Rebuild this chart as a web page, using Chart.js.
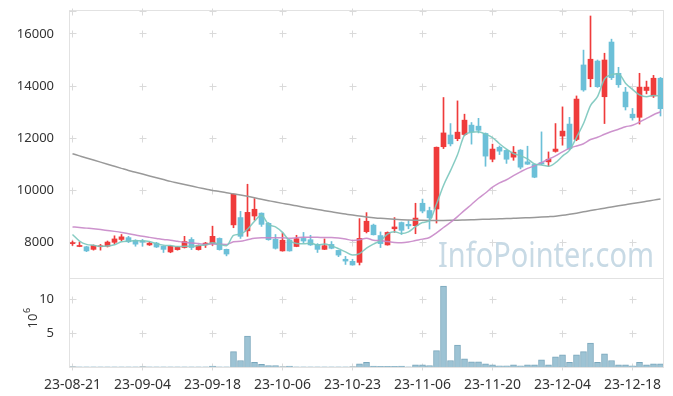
<!DOCTYPE html>
<html><head><meta charset="utf-8">
<script src="https://cdn.jsdelivr.net/npm/chart.js@4.4.0/dist/chart.umd.min.js"></script>
<style>html,body{margin:0;padding:0;background:#fff;}#wrap{width:673px;height:396px;position:relative;}</style>
</head><body><div id="wrap"><canvas id="c" width="673" height="396"></canvas></div>
<script>
// ---- data ----
const dateLabels = ['23-08-21','23-09-04','23-09-18','23-10-06','23-10-23','23-11-06','23-11-20','23-12-04','23-12-18'];
const dateTickIdx = [0,10,20,30,40,50,60,70,80];
const priceTicks = [8000,10000,12000,14000,16000];
const volTicks = [5,10];

const open  = [7950,7840,7830,7730,7830,7850,8000,8110,8180,8080, 8050,7900,7970,7850,7630,7720,7800,8110,7720,7900,
               7950,8150,7730,8670,8950,8440,9010,9120,8730,8120, 7670,8090,7840,8150,8100,7920,7730,7920,7690,7350,
               7270,7230,8410,8660,8260,7900,8520,8760,8690,8640, 9500,9220,9280,11670,12120,11980,12140,12500,12460,12180,
               11190,11650,11530,11270,11540,11090,10990,11060,11090,11490, 12080,12540,11950,14810,14280,14960,13590,15690,14490,13770,
               12920,12800,13830,13620,14300];
const high  = [8050,8010,7850,7900,7920,8050,8250,8300,8230,8100, 8110,8020,8000,7870,7870,7840,8230,8180,7900,8000,
               8620,8170,7740,9860,9190,10230,9680,9130,8760,8300, 8360,8110,8270,8380,8270,7950,8130,8030,7700,7460,
               7350,8910,9140,8700,8400,8400,8950,8780,8830,9500, 9660,9350,11660,13560,12560,13430,12920,12600,12760,12200,
               11770,11700,11560,11680,11560,11690,11010,12240,11470,12560, 13200,12800,13620,15380,16690,15000,15260,15800,14720,13950,
               13140,14490,14190,14410,14330];
const low   = [7880,7830,7640,7700,7700,7820,7930,8050,7990,7850, 7850,7880,7800,7610,7600,7700,7780,7720,7700,7800,
               7880,7700,7480,8560,8150,8230,8850,8610,8080,7740, 7660,7660,7830,7980,7880,7610,7720,7750,7450,7150,
               7120,7130,8360,8280,7800,7890,8380,8300,8520,8330, 9130,8510,8740,11600,11700,11900,12100,11770,12200,10920,
               11090,11370,11030,11150,10820,10990,10480,10980,10920,11460, 11730,11560,11900,13800,13970,13950,12560,14250,13950,13080,
               12690,12540,13700,13560,12850];
const close = [7970,7880,7670,7880,7860,8010,8130,8210,8020,7930, 8010,7970,7820,7730,7850,7820,8030,7800,7880,7970,
               8230,7720,7550,9850,8230,9150,9270,8690,8100,7770, 8080,7670,8140,8050,7900,7730,7870,7770,7510,7280,
               7130,8150,8810,8290,7950,8380,8590,8460,8630,8930, 9200,8940,11650,12200,11780,12230,12690,12240,12300,11310,
               11580,11500,11190,11460,10885,11000,10500,11010,11190,11580, 12270,11600,13500,13850,15030,13975,15000,14320,14050,13200,
               12780,13960,13960,14300,13130];
// volume, millions of shares
const volume = [0.01,0.01,0.01,0.01,0.01,0.01,0.01,0.01,0.01,0.01, 0.01,0.01,0.01,0.01,0.01,0.01,0.01,0.01,0.01,0.01,
                0.15,0.01,0.01,2.27,0.96,4.55,0.67,0.38,0.2,0.2, 0.01,0.15,0.01,0.01,0.01,0.01,0.01,0.01,0.01,0.01,
                0.01,0.48,0.67,0.12,0.1,0.1,0.1,0.12,0.01,0.33, 0.33,0.2,2.42,11.9,0.96,3.24,1.2,0.77,0.77,0.48,
                0.33,0.18,0.18,0.33,0.18,0.33,0.33,1.06,0.33,1.5, 1.79,0.67,1.79,2.27,3.53,0.67,1.93,0.96,0.33,0.33,
                0.18,0.67,0.33,0.48,0.48];
const ma5   = [8300,8050,7920,7885,7852,7860,7910,8018,8046,8060, 8060,8028,7950,7892,7876,7838,7850,7846,7876,7900,
               7982,7920,7870,8264,8316,8500,8810,9038,8688,8596, 8382,8062,7952,7942,7968,7898,7938,7864,7756,7632,
               7512,7568,7776,7934,8068,8318,8406,8336,8402,8598, 8762,8832,9470,10184,10754,11360,12110,12228,12248,12154,
               12024,11786,11576,11408,11323,11207,11007,10971,10917,11056, 11310,11530,12028,12560,13250,13591,14271,14435,14475,14109,
               13870,13662,13590,13640,13626];
const ma20  = [8590,8570,8545,8520,8490,8455,8420,8380,8330,8280, 8230,8190,8150,8110,8080,8040,8000,7970,7950,7922,
               7935,7927,7921,8020,8038,8095,8152,8176,8180,8172, 8176,8161,8177,8193,8195,8191,8183,8181,8163,8128,
               8073,8095,8158,8080,8066,8028,7994,7982,8009,8067, 8123,8186,8362,8569,8763,8988,9229,9453,9692,9894,
               10116,10284,10403,10561,10707,10838,10934,11061,11189,11322, 11475,11608,11701,11783,11946,12033,12149,12253,12340,12435,
               12495,12618,12757,12899,13011];
const ma120 = [11400,11320,11240,11160,11080,11000,10920,10840,10760,10690, 10620,10550,10480,10410,10340,10280,10220,10160,10100,10045,
               9990,9950,9905,9860,9815,9765,9710,9655,9600,9545, 9495,9450,9400,9350,9305,9260,9215,9170,9125,9085,
               9045,9010,8975,8945,8920,8905,8885,8870,8860,8852, 8846,8842,8840,8842,8846,8852,8860,8868,8876,8885,
               8894,8903,8912,8922,8932,8944,8956,8970,8986,9005, 9035,9075,9120,9170,9220,9265,9310,9355,9400,9445,
               9490,9530,9575,9620,9665];

// ---- styling ----
const FONT = '"Noto Sans", "DejaVu Sans", sans-serif';
const UP = '#ef3b3b', DN = '#6cc0d8';
const idx = close.map((_, i) => i);
const candleColor = idx.map(i => close[i] >= open[i] ? UP : DN);

const deco = {
  id: 'deco',
  beforeDatasetsDraw(chart) {
    const ctx = chart.ctx, xs = chart.scales.x, ys = chart.scales.y, yv = chart.scales.yv;
    const L = Math.round(xs.left) - 0.5, R = Math.round(xs.right) + 0.5;
    ctx.save();
    // watermark
    ctx.font = '35px ' + FONT;
    ctx.fillStyle = '#c8dae5';
    ctx.textBaseline = 'alphabetic';
    const wm = 'InfoPointer.com';
    const w = ctx.measureText(wm).width;
    ctx.save();
    ctx.translate(438, 267);
    ctx.scale(216 / w, 1);
    ctx.fillText(wm, 0, 0);
    ctx.restore();
    // frames
    ctx.strokeStyle = '#e2e2e2';
    ctx.lineWidth = 1;
    const t1 = Math.round(ys.top) + 0.5, b1 = Math.round(ys.bottom) + 0.5, b2 = Math.round(yv.bottom) + 0.5;
    ctx.strokeRect(L, t1, R - L, b1 - t1);
    ctx.strokeRect(L, b1, R - L, b2 - b1);
    // plus markers
    ctx.strokeStyle = '#dadada';
    const plus = (px, py) => {
      const cx = Math.floor(px) + 0.5, cy = Math.floor(py) + 0.5;
      ctx.beginPath();
      ctx.moveTo(cx - 3, cy); ctx.lineTo(cx + 4, cy);
      ctx.moveTo(cx, cy - 3); ctx.lineTo(cx, cy + 4);
      ctx.stroke();
    };
    dateTickIdx.forEach(v => {
      const px = xs.getPixelForValue(v);
      priceTicks.forEach(p => plus(px, ys.getPixelForValue(p)));
      plus(px, ys.top + 1);
      volTicks.forEach(p => plus(px, yv.getPixelForValue(p)));
      plus(px, yv.bottom - 1);
    });
    // volume axis title 10^6
    ctx.fillStyle = '#333';
    ctx.translate(33, 321);
    ctx.rotate(-Math.PI / 2);
    ctx.font = '13px ' + FONT;
    ctx.textBaseline = 'middle';
    ctx.textAlign = 'center';
    ctx.fillText('10', 0, 0);
    ctx.font = '9px ' + FONT;
    ctx.textAlign = 'left';
    ctx.fillText('6', 8, -6);
    ctx.restore();
  }
};

new Chart(document.getElementById('c'), {
  data: {
    datasets: [
      { type: 'line', label: 'MA5', data: idx.map(i => ({x: i, y: ma5[i]})), yAxisID: 'y',
        borderColor: 'rgba(122,198,188,0.9)', borderWidth: 1.5, pointRadius: 0, cubicInterpolationMode: 'monotone', order: 0 },
      { type: 'line', label: 'MA20', data: idx.map(i => ({x: i, y: ma20[i]})), yAxisID: 'y',
        borderColor: 'rgba(200,135,200,0.9)', borderWidth: 1.5, pointRadius: 0, cubicInterpolationMode: 'monotone', order: 0 },
      { type: 'line', label: 'MA120', data: idx.map(i => ({x: i, y: ma120[i]})), yAxisID: 'y',
        borderColor: '#999999', borderWidth: 1.5, pointRadius: 0, cubicInterpolationMode: 'monotone', order: 0 },
      { type: 'bar', label: 'body', data: idx.map(i => ({x: i, y: [open[i], close[i]]})), yAxisID: 'y',
        backgroundColor: candleColor, barThickness: 5, minBarLength: 1, grouped: false, order: 1 },
      { type: 'bar', label: 'wick', data: idx.map(i => ({x: i, y: [low[i], high[i]]})), yAxisID: 'y',
        backgroundColor: candleColor, barThickness: 1, grouped: false, order: 2 },
      { type: 'bar', label: 'volume', data: idx.map(i => ({x: i, y: volume[i]})), yAxisID: 'yv',
        backgroundColor: '#9dc3d4', borderColor: '#7aa7bc', borderWidth: 1, barThickness: 6, grouped: false, order: 3 }
    ]
  },
  options: {
    responsive: false, animation: false, events: [],
    layout: { padding: { left: 0, right: 10, top: 10, bottom: 0 } },
    plugins: { legend: { display: false }, tooltip: { enabled: false } },
    scales: {
      x: { type: 'linear', offset: false, min: -0.357, max: 84.357, grid: { display: false, offset: false }, border: { display: false },
           afterBuildTicks: s => { s.ticks = dateTickIdx.map(v => ({value: v})); },
           afterFit: s => { s.height = 29; s.paddingLeft = 0; s.paddingRight = 0; },
           ticks: { autoSkip: false, maxRotation: 0, padding: 2, color: '#333', font: { family: FONT, size: 14 },
                    callback: v => { const k = dateTickIdx.indexOf(v); return k >= 0 ? dateLabels[k] : ''; } } },
      yv: { type: 'linear', stack: 'panel', stackWeight: 89, position: 'left', min: 0, max: 13.1,
            grid: { display: false }, border: { display: false },
            afterBuildTicks: s => { s.ticks = volTicks.map(v => ({value: v})); },
            afterFit: s => { s.width = 70; s.paddingTop = 0; s.paddingBottom = 0; },
            ticks: { padding: 8, color: '#333', font: { family: FONT, size: 13 }, callback: v => String(v) } },
      y: { type: 'linear', stack: 'panel', stackWeight: 268, position: 'left', min: 6630, max: 16920,
           grid: { display: false }, border: { display: false },
           afterBuildTicks: s => { s.ticks = priceTicks.map(v => ({value: v})); },
           afterFit: s => { s.width = 70; s.paddingTop = 0; s.paddingBottom = 0; },
           ticks: { padding: 8, color: '#333', font: { family: FONT, size: 13 }, callback: v => String(v) } }
    }
  },
  plugins: [deco]
});
</script>
</body></html>
